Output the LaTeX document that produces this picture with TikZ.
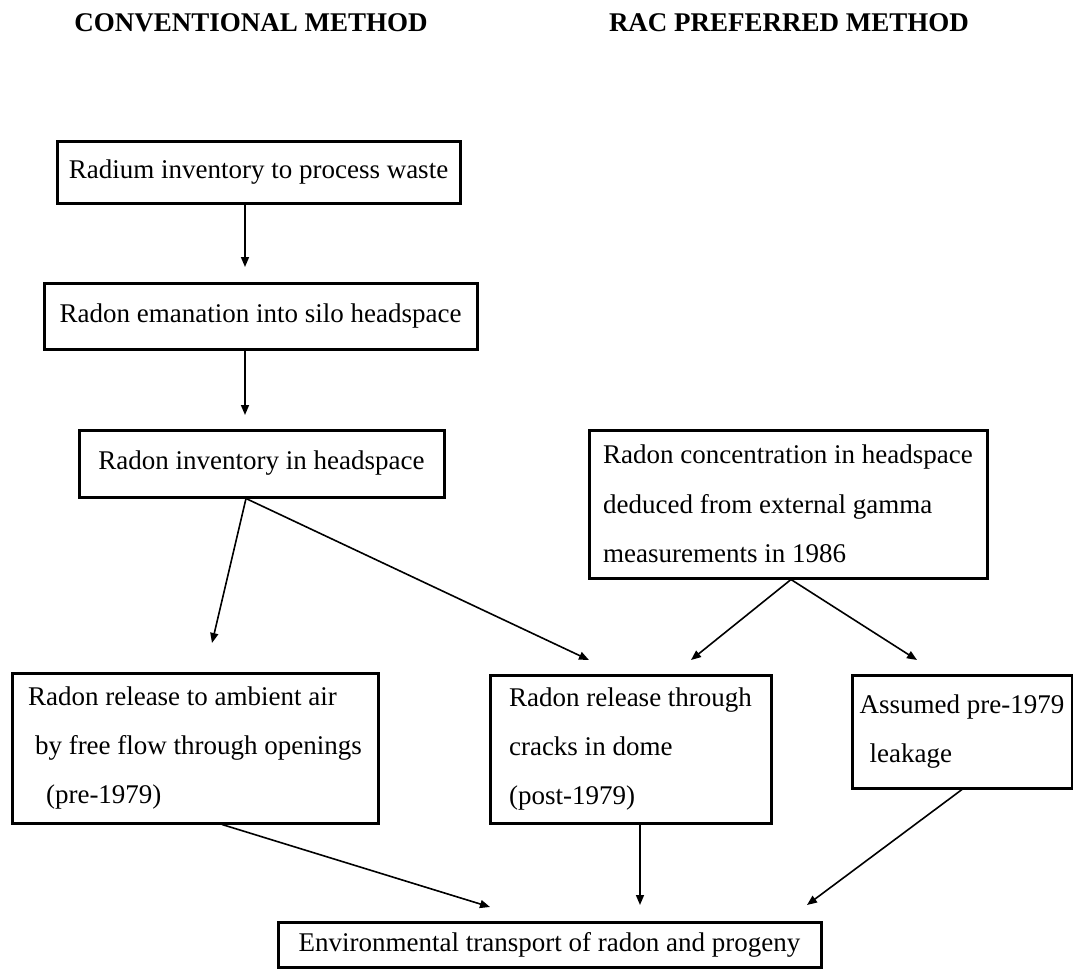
\documentclass[tikz,border=0pt]{standalone}
\usepackage{fontspec}
\setmainfont{Liberation Serif}
\usetikzlibrary{arrows.meta}

\tikzset{
	box/.style={draw, line width=1.5pt, inner sep=0pt, align=left,
		font=\fontsize{13.5pt}{24.7pt}\selectfont},
	flow/.style={-{Triangle[length=5pt,width=4pt]}, line width=0.8pt},
	heading/.style={anchor=base, font=\fontsize{13.5pt}{16pt}\selectfont\bfseries}
}

\begin{document}
\begin{tikzpicture}[x=0.5pt,y=-0.5pt]
	\useasboundingbox (0,0) rectangle (1073,969);

	\node[heading] (conv) at (251,32) {CONVENTIONAL METHOD};
	\node[heading] (rac) at (789,32) {RAC PREFERRED METHOD};

	\node[box, minimum width=201.5pt, minimum height=31pt] (radium) at (258.5,172) {Radium inventory to process waste};
	\node[box, minimum width=216.5pt, minimum height=33pt] (emanation) at (260.5,316) {Radon emanation into silo headspace};
	\node[box, minimum width=182.5pt, minimum height=33.5pt] (inventory) at (261.5,463.5) {Radon inventory in headspace};
	\node[box, minimum width=199pt, minimum height=74pt] (gamma) at (788,504) {Radon concentration in headspace\\deduced from external gamma\\measurements in 1986};

	\node[box, minimum width=183pt, minimum height=75pt] (ambient) at (195,748) {Radon release to ambient air\\\hspace{3.5pt}by free flow through openings\\\hspace{9pt}(pre-1979)};
	\node[box, minimum width=140.5pt, minimum height=74pt] (cracks) at (630.5,749) {Radon release through\\cracks in dome\\(post-1979)};
	\node[box, minimum width=110pt, minimum height=56.5pt] (leakage) at (962,731.5) {Assumed pre-1979\\\hspace{5pt}leakage};

	\node[box, minimum width=271.5pt, minimum height=22.5pt] (transport) at (549.5,944.5) {Environmental transport of radon and progeny};

	% arrow tips
	\coordinate (tipB) at (245,267);
	\coordinate (tipC) at (245,415);
	\coordinate (tipE) at (212,643);
	\coordinate (tipF1) at (589,660);
	\coordinate (tipF2) at (691,660);
	\coordinate (tipG) at (917,660);
	\coordinate (tipH1) at (490,907);
	\coordinate (tipH2) at (640,905);
	\coordinate (tipH3) at (807,905);

	\draw[flow] (radium.south -| tipB) -- (tipB);
	\draw[flow] (emanation.south -| tipC) -- (tipC);
	\draw[flow] ([xshift=-7.75pt]inventory.south) -- (tipE);
	\draw[flow] ([xshift=-7.75pt]inventory.south) -- (tipF1);
	\draw[flow] ([xshift=1.5pt]gamma.south) -- (tipF2);
	\draw[flow] ([xshift=1.5pt]gamma.south) -- (tipG);
	\draw[flow] ([xshift=13.5pt]ambient.south) -- (tipH1);
	\draw[flow] (cracks.south -| tipH2) -- (tipH2);
	\draw[flow] (leakage.south) -- (tipH3);
\end{tikzpicture}
\end{document}
